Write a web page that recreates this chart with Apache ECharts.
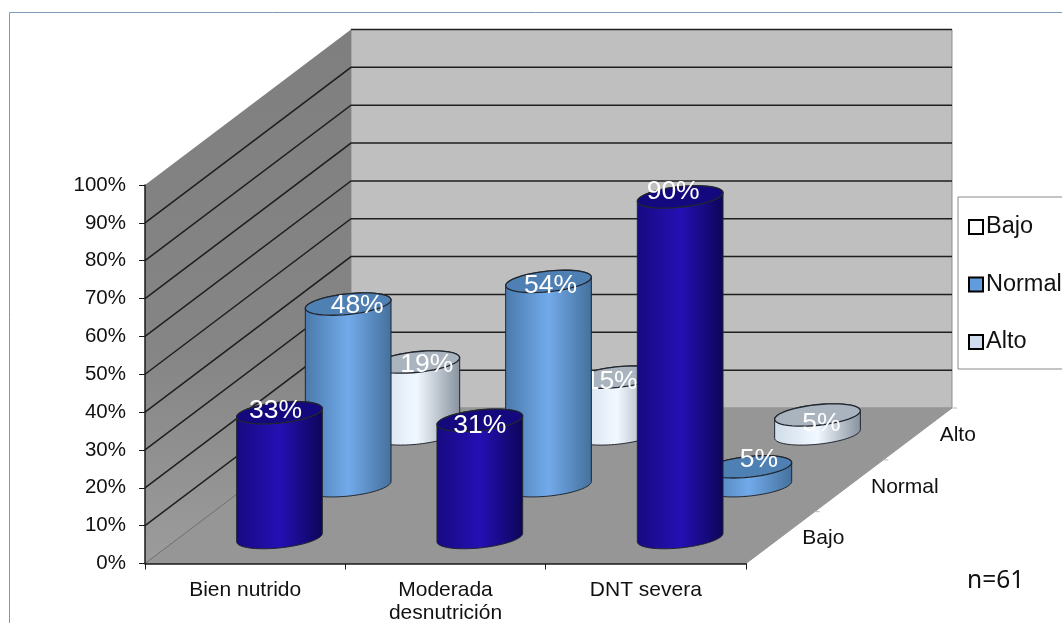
<!DOCTYPE html>
<html>
<head>
<meta charset="utf-8">
<style>html,body{margin:0;padding:0;background:#fff}#chart{width:1062px;height:623px}</style>
<script src="https://cdn.jsdelivr.net/npm/echarts@6/dist/echarts.min.js"></script>
</head>
<body>
<div id="chart"></div>
<script>
// Nutritional status by weight class, pseudo-3D cylinder chart.
const categories = ['Bien nutrido', 'Moderada\ndesnutrición', 'DNT severa'];
const depthLabels = ['Bajo', 'Normal', 'Alto'];
const bajo = [33, 31, 90];
const normal = [48, 54, 5];
const alto = [19, 15, 5];
const yTicks = [0, 10, 20, 30, 40, 50, 60, 70, 80, 90, 100];

// Oblique projection of the depth axis, in screen pixels for full depth.
const DEPTH_DX = 206;
const DEPTH_DY = -155.5;
const RADIUS_RATIO = 0.215;
const MINOR_AXIS = 10.3;
const TILT = 6 * Math.PI / 180;
const FONT = '"Liberation Sans", Arial, sans-serif';

// Per-series look; labelShift moves each value label off its cap centre.
const seriesLook = {
  Bajo: {
    depth: 1 / 6,
    stops: ['#170a80', '#2410b4', '#0c0558'],
    top: '#14087e',
    labelShift: [[-4, -2], [0, 5], [-7, -5]]
  },
  Normal: {
    depth: 3 / 6,
    stops: ['#4a7aac', '#72aaea', '#44709c'],
    top: '#4f80b4',
    labelShift: [[9, 2], [2, 4], [10, -7]]
  },
  Alto: {
    depth: 5 / 6,
    stops: ['#cfdcea', '#f2f8ff', '#87929e'],
    top: '#aab4bf',
    labelShift: [[10, 3], [-6, 5], [4, 9]]
  }
};

function gradient(stops) {
  return new echarts.graphic.LinearGradient(0, 0, 1, 0, [
    { offset: 0, color: stops[0] },
    { offset: 0.5, color: stops[1] },
    { offset: 1, color: stops[2] }
  ]);
}

// Screen point for a position along the category axis (0..1), a value and a depth fraction.
function project(api, along, value, depth) {
  const c = api.coord([0, value]);
  const w = api.size([1, 0])[0];
  const x0 = c[0] - w / 2;
  return [x0 + along * w * categories.length + DEPTH_DX * depth, c[1] + DEPTH_DY * depth];
}

function ellipseArc(cx, cy, a, b, from, to) {
  const pts = [];
  const n = 48;
  for (let i = 0; i <= n; i++) {
    const t = from + (to - from) * i / n;
    pts.push([
      cx + a * Math.cos(t) * Math.cos(TILT) + b * Math.sin(t) * Math.sin(TILT),
      cy - a * Math.cos(t) * Math.sin(TILT) + b * Math.sin(t) * Math.cos(TILT)
    ]);
  }
  return pts;
}

function cylinderRenderer(look) {
  return function (params, api) {
    const cat = api.value(0);
    const val = api.value(1);
    const along = (cat + 0.5) / categories.length;
    const base = project(api, along, 0, look.depth);
    const top = project(api, along, val, look.depth);
    const a = api.size([1, 0])[0] * RADIUS_RATIO;
    const b = MINOR_AXIS;
    const t0 = Math.atan2(b * Math.sin(TILT), a * Math.cos(TILT));
    const body = ellipseArc(base[0], base[1], a, b, t0, t0 + Math.PI)
      .concat(ellipseArc(top[0], top[1], a, b, t0 + Math.PI, t0 + 2 * Math.PI));
    const cap = ellipseArc(top[0], top[1], a, b, 0, 2 * Math.PI);
    const line = { stroke: '#22262e', lineWidth: 1 };
    return {
      type: 'group',
      children: [
        { type: 'polygon', shape: { points: body }, style: Object.assign({ fill: gradient(look.stops) }, line) },
        { type: 'polygon', shape: { points: cap }, style: { fill: look.top, stroke: '#22262e', lineWidth: 1.3 } },
        {
          type: 'text',
          x: top[0] + look.labelShift[cat][0],
          y: top[1] + look.labelShift[cat][1],
          style: {
            text: val + '%',
            fill: '#fff',
            fontFamily: FONT,
            fontSize: 26.5,
            align: 'center',
            verticalAlign: 'middle'
          }
        }
      ]
    };
  };
}

function cylinderSeries(name, values) {
  return {
    type: 'custom',
    name: name,
    coordinateSystem: 'cartesian2d',
    clip: false,
    z: 5,
    silent: true,
    encode: { x: 0, y: 1 },
    itemStyle: { color: seriesLook[name].stops[1] },
    data: values.map((v, i) => [i, v]),
    renderItem: cylinderRenderer(seriesLook[name])
  };
}

// Side wall, floor and back wall of the chart box.
const wallsSeries = {
  type: 'custom',
  name: 'walls',
  coordinateSystem: 'cartesian2d',
  clip: false,
  z: 1,
  silent: true,
  encode: { x: 0, y: 1 },
  data: [[0, 0]],
  renderItem: function (params, api) {
    const y0 = 0;
    const y1 = yTicks[yTicks.length - 1];
    const quad = (pts, fill, stroke) => ({
      type: 'polygon',
      shape: { points: pts },
      style: { fill: fill, stroke: stroke || fill, lineWidth: 1 }
    });
    const sideFill = new echarts.graphic.LinearGradient(0, 0, 0, 1, [
      { offset: 0, color: '#7f7f7f' },
      { offset: 0.6, color: '#858585' },
      { offset: 1, color: '#9c9c9c' }
    ]);
    const floorEdgeA = project(api, 0, y0, 0);
    const floorEdgeB = project(api, 0, y0, 1);
    return {
      type: 'group',
      children: [
        quad([project(api, 0, y0, 1), project(api, 1, y0, 1), project(api, 1, y1, 1), project(api, 0, y1, 1)], '#bfbfbf', '#8f8f8f'),
        quad([project(api, 0, y0, 0), project(api, 0, y0, 1), project(api, 0, y1, 1), project(api, 0, y1, 0)], sideFill, 'rgba(0,0,0,0)'),
        quad([project(api, 0, y0, 0), project(api, 1, y0, 0), project(api, 1, y0, 1), project(api, 0, y0, 1)], '#969696'),
        {
          type: 'line',
          shape: { x1: floorEdgeA[0], y1: floorEdgeA[1], x2: floorEdgeB[0], y2: floorEdgeB[1] },
          style: { stroke: '#6e6e6e', lineWidth: 1 }
        }
      ]
    };
  }
};

// Gridlines run along the side wall and then across the back wall.
const gridlinesSeries = {
  type: 'custom',
  name: 'gridlines',
  coordinateSystem: 'cartesian2d',
  clip: false,
  z: 2,
  silent: true,
  encode: { x: 0, y: 1 },
  data: yTicks.filter(v => v > 0).map(v => [0, v]),
  renderItem: function (params, api) {
    const v = api.value(1);
    const pts = v === 100
      ? [project(api, 0, v, 1), project(api, 1, v, 1)]
      : [project(api, 0, v, 0), project(api, 0, v, 1), project(api, 1, v, 1)];
    return {
      type: 'polyline',
      shape: { points: pts },
      style: { fill: 'none', stroke: '#1f1f1f', lineWidth: 1.5 }
    };
  }
};

// Depth axis ticks and series names along the right edge of the floor.
const depthAxisSeries = {
  type: 'custom',
  name: 'depth axis',
  coordinateSystem: 'cartesian2d',
  clip: false,
  z: 3,
  silent: true,
  encode: { x: 0, y: 1 },
  data: depthLabels.map((d, i) => [0, 0, i]),
  renderItem: function (params, api) {
    const i = api.value(2);
    const mid = project(api, 1, 0, (i + 0.5) / depthLabels.length);
    const end = project(api, 1, 0, (i + 1) / depthLabels.length);
    return {
      type: 'group',
      children: [
        { type: 'line', shape: { x1: end[0], y1: end[1], x2: end[0] + 5, y2: end[1] }, style: { stroke: '#b8b8b8', lineWidth: 1 } },
        {
          type: 'text',
          x: mid[0] + 22,
          y: mid[1] + 1,
          style: {
            text: depthLabels[i],
            fill: '#111',
            fontFamily: FONT,
            fontSize: 21,
            align: 'left',
            verticalAlign: 'middle'
          }
        }
      ]
    };
  }
};

const legendSwatch = (name, color) => ({
  name: name,
  icon: 'rect',
  itemStyle: { color: color, borderColor: '#000', borderWidth: 2 }
});

const chart = echarts.init(document.getElementById('chart'), null, { renderer: 'canvas' });
chart.setOption({
  animation: false,
  backgroundColor: '#fff',
  grid: { left: 145, right: 316, top: 185, bottom: 59.5, containLabel: false, outerBoundsMode: 'none' },
  xAxis: {
    type: 'category',
    data: categories,
    z: 10,
    axisLine: { lineStyle: { color: '#1a1a1a', width: 1.5 } },
    axisTick: { show: true, alignWithLabel: false, length: 6, lineStyle: { color: '#1a1a1a' } },
    axisLabel: { color: '#111', fontFamily: FONT, fontSize: 21, margin: 15, lineHeight: 23, interval: 0 }
  },
  yAxis: {
    type: 'value',
    min: 0,
    max: 100,
    interval: 10,
    z: 10,
    splitLine: { show: false },
    axisLine: { show: true, lineStyle: { color: '#1a1a1a', width: 1.5 } },
    axisTick: { show: true, length: 6, lineStyle: { color: '#1a1a1a' } },
    axisLabel: { color: '#111', fontFamily: FONT, fontSize: 20.5, margin: 19, padding: [3, 0, 0, 0], formatter: '{value}%' }
  },
  legend: {
    orient: 'vertical',
    left: 958,
    top: 197,
    padding: [18, 3, 15, 10],
    itemGap: 33.5,
    itemWidth: 14,
    itemHeight: 14,
    icon: 'rect',
    backgroundColor: '#fff',
    borderColor: '#8a8a8a',
    borderWidth: 1,
    selectedMode: false,
    textStyle: { color: '#111', fontFamily: FONT, fontSize: 23.5, padding: [0, 0, 0, -2] },
    data: [legendSwatch('Bajo', '#ffffff'), legendSwatch('Normal', '#639cdc'), legendSwatch('Alto', '#cfdcee')]
  },
  graphic: [
    {
      type: 'polyline',
      shape: { points: [[9.5, 623], [9.5, 12.5], [1062, 12.5]] },
      style: { fill: 'none', stroke: '#7f98b8', lineWidth: 1 },
      silent: true
    },
    {
      type: 'text',
      left: 967,
      top: 569,
      style: { text: 'n=61', fill: '#111', fontFamily: '"Noto Sans", "Open Sans", sans-serif', fontSize: 24.5 },
      silent: true
    }
  ],
  series: [
    wallsSeries,
    gridlinesSeries,
    depthAxisSeries,
    cylinderSeries('Alto', alto),
    cylinderSeries('Normal', normal),
    cylinderSeries('Bajo', bajo)
  ]
});
</script>
</body>
</html>
